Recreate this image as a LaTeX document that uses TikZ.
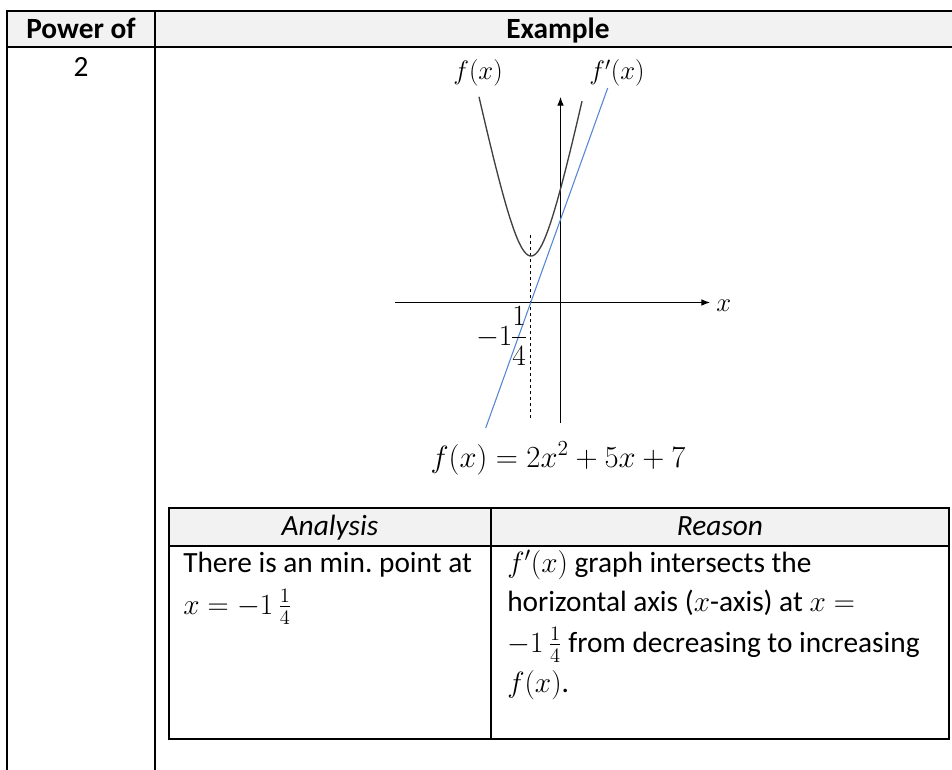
\documentclass[tikz,border=0pt]{standalone}
\usepackage{fix-cm}
\usepackage{amsmath}
\usepackage[no-math]{fontspec}
\setmainfont{Carlito}
\frenchspacing
\usetikzlibrary{arrows.meta}
\definecolor{hdr}{RGB}{242,242,242}
\definecolor{fblue}{RGB}{84,134,214}
\definecolor{curvegray}{RGB}{64,64,64}
\tikzset{
  rule/.style={line width=1.5pt, line cap=rect},
  axisline/.style={line width=0.8pt, -{Latex[length=6.5pt,width=5pt]}},
  body/.style={inner sep=0pt, font=\fontsize{22}{26}\selectfont},
  glabel/.style={inner sep=0pt, font=\fontsize{20}{24}\selectfont},
  guide/.style={line width=0.7pt, dash pattern=on 2.6pt off 1.9pt},
  curve/.style={line width=1pt, curvegray},
  tangent/.style={line width=0.8pt, fblue}
}
\begin{document}
\begin{tikzpicture}[x=0.75pt,y=-0.75pt]
\clip (0,0) rectangle (952,770);
\fill[white] (0,0) rectangle (952,770);
% ---------- outer table ----------
\fill[hdr] (7,11) rectangle (975,47.5);
\draw[rule] (7,11) -- (975,11);
\draw[rule] (7,47.5) -- (975,47.5);
\fill[white] (382,47.9) rectangle (738,49.5);
\draw[rule] (7,11) -- (7,785);
\draw[rule] (154.5,11) -- (154.5,785);
\node[body, anchor=base] (hpow) at (81,39) {\bfseries Power of};
\node[body, anchor=base] (hex) at (558,39) {\bfseries Example};
\node[body, anchor=base] (two) at (81,77) {2};
% ---------- graph ----------
\coordinate (ybot) at (560.5,423);
\coordinate (ytop) at (560.5,97);
\coordinate (xleft) at (395,302.5);
\coordinate (xright) at (710,302.5);
\coordinate (dtop) at (530.7,235);
\coordinate (dbot) at (530.7,420);
\coordinate (bstart) at (485.7,428);
\coordinate (bend) at (607.7,88);
\draw[axisline] (ybot) -- (ytop);
\draw[axisline] (xleft) -- (xright);
\draw[guide] (dtop) -- (dbot);
\draw[curve] plot[domain=-52:51, samples=90, variable=\t, smooth]
  ({531+\t},{256-114.8*(sqrt(1+(\t/24)^2)-1)});
\draw[tangent] (bstart) -- (bend);
\node[glabel, anchor=base west] (xlab) at (716,311) {$x$};
\node[glabel, anchor=base] (flab) at (478,80) {$f(x)$};
\node[glabel, anchor=base] (fplab) at (617,80) {$f'(x)$};
\node[inner sep=0pt, anchor=base east, font=\fontsize{22}{26}\selectfont] (mlab) at (526,345)
  {\nulldelimiterspace=0pt$-1\dfrac{1}{4}$};
\node[inner sep=0pt, anchor=base, font=\fontsize{23}{27}\selectfont] (formula) at (558,467) {$f(x) = 2x^2 + 5x + 7$};
% ---------- inner table ----------
\fill[hdr] (169,508) rectangle (949,545.5);
\draw[rule] (169,508) rectangle (949,739);
\draw[rule] (169,545.5) -- (949,545.5);
\draw[rule] (491,508) -- (491,739);
\node[body, anchor=base] (hana) at (330,535) {\itshape Analysis};
\node[body, anchor=base] (hrea) at (720,535) {\itshape Reason};
\node[body, anchor=base west] (a1) at (183,572) {There is an min. point at};
\node[body, anchor=base west] (a2) at (183,614) {$x = -1\,\frac{1}{4}$};
\node[body, anchor=base west] (r1) at (507,572) {$f'(x)$ graph intersects the};
\node[body, anchor=base west] (r2) at (507,611) {horizontal axis ($x$-axis) at $x =$};
\node[body, anchor=base west] (r3) at (507,652) {$-1\,\frac{1}{4}$ from decreasing to increasing};
\node[body, anchor=base west] (r4) at (507,692) {$f(x)$.};
\end{tikzpicture}
\end{document}
